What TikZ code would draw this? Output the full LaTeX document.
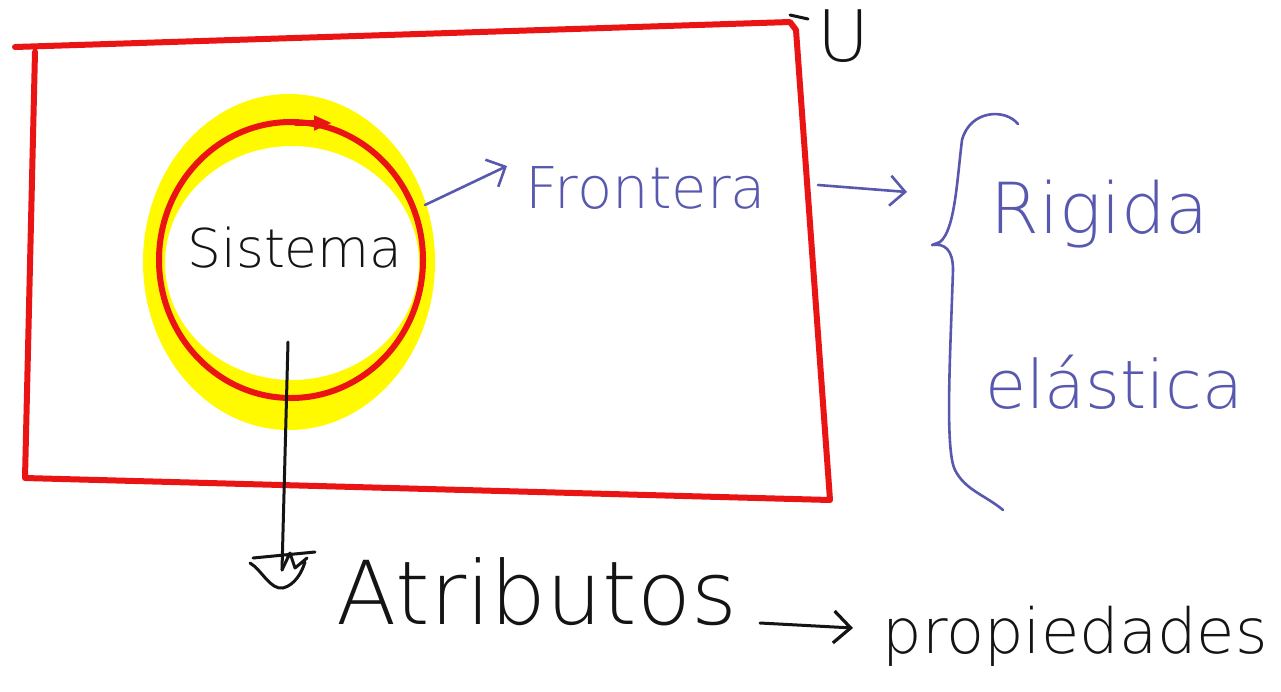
\documentclass[tikz,border=0pt]{standalone}
\usepackage{fontspec}
\setmainfont{DejaVu Sans ExtraLight}
\usepackage{graphicx}
\usetikzlibrary{arrows.meta,calc}
\definecolor{inkred}{RGB}{235,20,20}
\definecolor{inkyellow}{RGB}{255,250,0}
\definecolor{inkblue}{RGB}{88,88,175}
\definecolor{inkblack}{RGB}{20,20,20}
\tikzset{
  redline/.style={draw=inkred, line width=6pt, line join=round, line cap=round},
  blueline/.style={draw=inkblue, line width=2.6pt, line cap=round, line join=round},
  blackline/.style={draw=inkblack, line width=3pt, line cap=round, line join=round},
  bluetip/.style={-{Straight Barb[length=15pt,width=30pt,line width=2.6pt]}},
  blacktip/.style={-{Straight Barb[length=17pt,width=32pt,line width=3.2pt]}},
  word/.style={inner sep=0pt, anchor=center},
}
\newcommand{\fitword}[2]{\resizebox{#1}{!}{#2}}
\begin{document}
\begin{tikzpicture}[x=1pt,y=-1pt]
\useasboundingbox[fill=white] (0,0) rectangle (1281,691);

% universe: the hand drawn red frame
\draw[redline] (15,47) -- (790,22) -- (796,30) -- (830,500) -- (25,478) -- (35,52);
\node[word, text=inkblack] (U) at (843,36) {\fitword{52pt}{U}};
\coordinate (ubar) at (790,15);
\draw[blackline] (ubar) -- ++(18,4);

% the system with its boundary
\fill[inkyellow, even odd rule] (289,262) ellipse [x radius=146, y radius=168]
  (292,263) ellipse [x radius=127, y radius=117];
\draw[redline] (291,260) ellipse [x radius=132, y radius=138];
\draw[redline, -{Triangle[length=18pt,width=14pt]}] (296,123) -- (332,123);
\node[word, text=inkblack] (sis) at (295,248) {\fitword{215pt}{Sistema}};

% boundary and its kinds
\coordinate (bnd) at (425,205);
\node[word, text=inkblue] (fro) at (646,188) {\fitword{240pt}{Frontera}};
\draw[blueline, bluetip] (bnd) -- (507,166);
\node[word, text=inkblue] (rig) at (1100,214) {\fitword{218pt}{Rigida}};
\node[word, text=inkblue] (ela) at (1114,382) {\fitword{258pt}{elástica}};
\coordinate (brtip) at (932,245);
\draw[blueline, bluetip] (818,185) -- (907,192);
\draw[blueline] (1018,124) .. controls (1005,108) and (970,110) .. (962,140)
  .. controls (957,180) and (955,230) .. (940,242) -- (brtip)
  .. controls (945,243) and (953,250) .. (953,270)
  .. controls (950,360) and (945,450) .. (955,470)
  .. controls (965,490) and (985,495) .. (1003,510);

% attributes and properties
\coordinate (sdown) at (288,342);
\node[word, text=inkblack] (atr) at (537,592) {\fitword{400pt}{Atributos}};
\node[word, text=inkblack] (pro) at (1075,636) {\fitword{385pt}{propiedades}};
\draw[blackline] (sdown) -- (282,570) coordinate (shead);
\draw[blackline] (253,558) -- (315,552)
  (250,563) .. controls (262,570) and (270,590) .. (283,588)
  .. controls (295,585) and (302,572) .. (305,562)
  (shead) -- (290,553) -- (295,568) -- (307,558);
\draw[blackline, blacktip] (760,623) -- (853,628);
\end{tikzpicture}
\end{document}
